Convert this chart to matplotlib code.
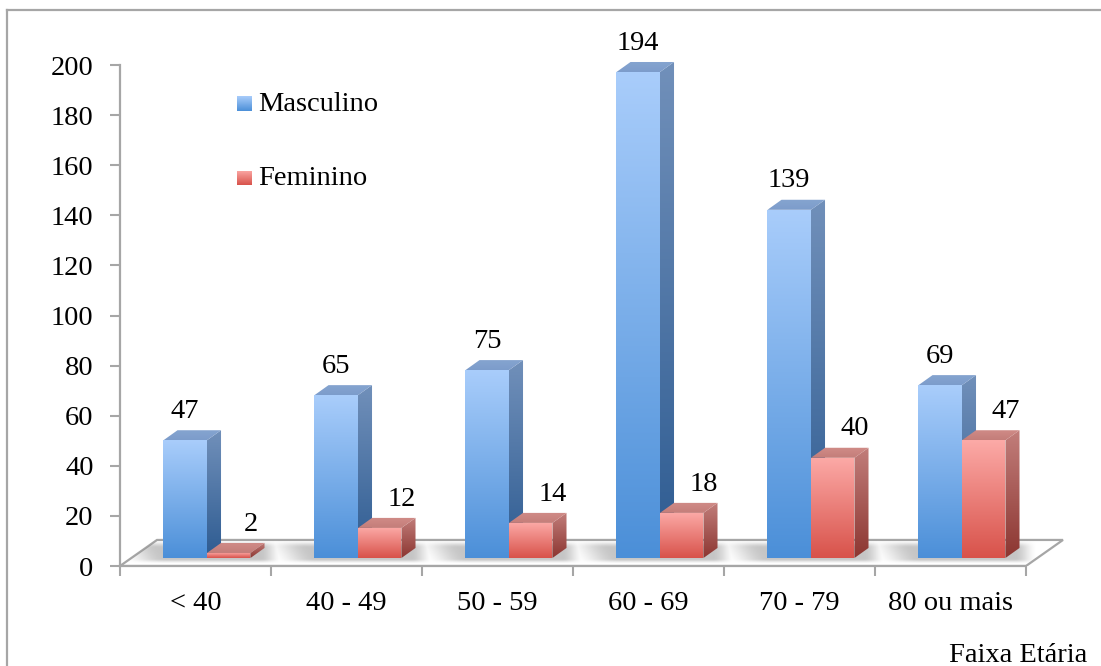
import numpy as np
import matplotlib
matplotlib.use("Agg")
import matplotlib.pyplot as plt
from matplotlib.patches import Polygon
from matplotlib.lines import Line2D
from matplotlib.colors import LinearSegmentedColormap

# ---- data ----
categories = ["< 40", "40 - 49", "50 - 59", "60 - 69", "70 - 79", "80 ou mais"]
masculino = [47, 65, 75, 194, 139, 69]
feminino = [2, 12, 14, 18, 40, 47]
y_ticks = list(range(0, 201, 20))
series_names = ["Masculino", "Feminino"]
x_title = "Faixa Etária"

# ---- styling ----
FONT = "Liberation Serif"
FS = 20.5
GRAY = "#a6a6a6"
plt.rcParams["font.family"] = [FONT, "DejaVu Serif"]

W, H, DPI = 1101, 666, 100
fig = plt.figure(figsize=(W / DPI, H / DPI), dpi=DPI)

# plot area: x in category units, y in values
x0, x1 = -0.5, 5.8
y0, y1 = 0, 215
px_x0, px_unit = 120, 151.0
px_y0, py_unit = 566, 2.505
ax = fig.add_axes([px_x0 / W, (H - px_y0) / H,
                   (x1 - x0) * px_unit / W, (y1 - y0) * py_unit / H])
ax.set_facecolor("none")

# bar geometry (category units / value units)
bar_w = 0.288
depth_dx, depth_dy = 0.093, 4.0
base = 3.2
floor_dx, floor_dy = 0.245, 10.4

blue = dict(front=("#a9cdfb", "#4b8fd8"), side=("#7190ba", "#2d5b91"),
            top=("#86a5d0", "#7c9ccb"))
red = dict(front=("#fcaaa7", "#d8524a"), side=("#c27e7b", "#8c3631"),
           top=("#d08c88", "#c47d79"))


def shade(verts, c_top, c_bot, z):
    poly = Polygon(verts, closed=True, facecolor="none", edgecolor="none",
                   zorder=z)
    ax.add_patch(poly)
    xs, ys = zip(*verts)
    grad = np.linspace(0, 1, 256).reshape(-1, 1)
    cmap = LinearSegmentedColormap.from_list("g", [c_bot, c_top])
    im = ax.imshow(grad, extent=(min(xs), max(xs), min(ys), max(ys)),
                   origin="lower", cmap=cmap, aspect="auto", zorder=z,
                   interpolation="bilinear")
    im.set_clip_path(poly)


def bar3d(xl, h, colors, z):
    xr = xl + bar_w
    yt = base + h
    front = [(xl, base), (xr, base), (xr, yt), (xl, yt)]
    side = [(xr, base), (xr + depth_dx, base + depth_dy),
            (xr + depth_dx, yt + depth_dy), (xr, yt)]
    top = [(xl, yt), (xr, yt), (xr + depth_dx, yt + depth_dy),
           (xl + depth_dx, yt + depth_dy)]
    shade(side, *colors["side"], z)
    shade(top, *colors["top"], z + 0.1)
    shade(front, *colors["front"], z + 0.2)


# floor
n = len(categories)
floor = [(-0.5, 0), (n - 0.5, 0), (n - 0.5 + floor_dx, floor_dy),
         (-0.5 + floor_dx, floor_dy)]
ax.add_patch(Polygon(floor, closed=True, facecolor="white", edgecolor=GRAY,
                     linewidth=1.6, zorder=1))

# soft shadows on the floor
gx = np.linspace(-0.5, n - 0.5 + floor_dx, 1400)
gy = np.linspace(0, floor_dy, 80)
GX, GY = np.meshgrid(gx, gy)
alpha = np.zeros_like(GX)


def smooth(t):
    t = np.clip(t, 0, 1)
    return t * t * (3 - 2 * t)


for i in range(n):
    left = i - 0.212
    right = i + 0.076 + bar_w + depth_dx
    xs = smooth((GX - (left - 0.25) + GY * 0.012) / 0.3) * \
        smooth(((right + 0.12) - GX) / 0.15)
    ys = smooth((GY - 0.8) / 2.0) * smooth((floor_dy - 0.3 - GY) / 3.0)
    alpha = np.maximum(alpha, 0.5 * xs * ys)
rgba = np.zeros(alpha.shape + (4,))
rgba[..., :3] = 0.55
rgba[..., 3] = alpha
im = ax.imshow(rgba, extent=(gx[0], gx[-1], 0, floor_dy), origin="lower",
               aspect="auto", zorder=1.5, interpolation="bilinear")
clip = Polygon(floor, closed=True, facecolor="none", edgecolor="none")
ax.add_patch(clip)
im.set_clip_path(clip)

# bars and value labels
for i in range(n):
    bl = i - 0.212
    rl = bl + bar_w
    bar3d(bl, masculino[i], blue, 3 + i)
    bar3d(rl, feminino[i], red, 3.5 + i)
    ax.text(bl + bar_w / 2, base + masculino[i] + 11.5, str(masculino[i]),
            ha="center", va="center", fontsize=FS, zorder=20)
    ax.text(rl + bar_w, base + feminino[i] + 11.5, str(feminino[i]),
            ha="center", va="center", fontsize=FS, zorder=20)

# legend
leg_items = [(series_names[0], blue, 184.4), (series_names[1], red, 154.5)]
for name, col, yc in leg_items:
    sq = [(0.275, yc - 2.6), (0.372, yc - 2.6), (0.372, yc + 3.2),
          (0.275, yc + 3.2)]
    shade(sq, *col["front"], 20)
    ax.text(0.414, yc, name, ha="left", va="center", fontsize=FS, zorder=20)

# axes
ax.set_xlim(x0, x1)
ax.set_ylim(y0, y1)
for s in ("top", "right"):
    ax.spines[s].set_visible(False)
ax.spines["left"].set_bounds(0, 200)
ax.spines["bottom"].set_bounds(-0.5, n - 0.5)
for s in ("left", "bottom"):
    ax.spines[s].set_color(GRAY)
    ax.spines[s].set_linewidth(1.6)
    ax.spines[s].set_zorder(2)

ax.set_yticks(y_ticks)
ax.set_yticklabels([str(v) for v in y_ticks])
ax.tick_params(axis="y", direction="out", length=7, width=1.5, color=GRAY,
               labelsize=FS, pad=12)
ax.set_xticks(np.arange(n + 1) - 0.5)
ax.set_xticklabels([""] * (n + 1))
ax.set_xticks(np.arange(n), minor=True)
ax.set_xticklabels(categories, minor=True)
ax.tick_params(axis="x", which="major", direction="out", length=7, width=1.5,
               color=GRAY)
ax.tick_params(axis="x", which="minor", length=0, labelsize=FS, pad=18)

# axis title
fig.text(1087 / W, 1 - 655 / H, x_title, ha="right", va="center",
         fontsize=FS)

# chart frame
fig.add_artist(Line2D([7 / W, 7 / W], [0, 1 - 10 / H], color=GRAY, lw=1.6,
                      transform=fig.transFigure))
fig.add_artist(Line2D([7 / W, 1], [1 - 10 / H, 1 - 10 / H], color=GRAY,
                      lw=1.6, transform=fig.transFigure))

fig.savefig("out.png", dpi=DPI)
